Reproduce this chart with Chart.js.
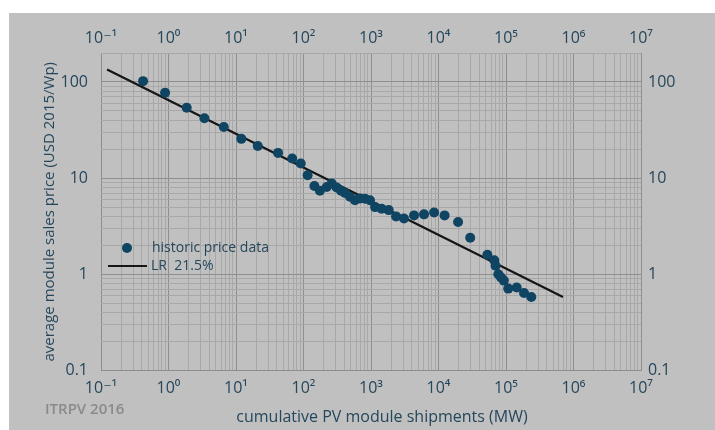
<!DOCTYPE html>
<html>
<head>
<meta charset="utf-8">
<script src="https://cdn.jsdelivr.net/npm/chart.js@4.4.1/dist/chart.umd.min.js"></script>
<style>
    html, body { margin: 0; padding: 0; background: #fff; }
    #wrap { position: relative; width: 715px; height: 430px; }
    #bg { position: absolute; left: 9px; top: 13px; right: 0; bottom: 0; background: #c0c0c0; }
    #pvChart { position: absolute; left: 0; top: 0; }
</style>
</head>
<body>
<div id="wrap">
    <div id="bg"></div>
    <canvas id="pvChart" width="715" height="430"></canvas>
</div>
<script>
// cumulative shipments (MW) and price (USD 2015/Wp)
var shipmentsMW = [0.42, 0.89, 1.86, 3.4, 6.6, 12, 21, 42, 68, 91, 115, 145, 175, 221, 262, 310, 360, 412, 489, 579,
    687, 815, 966, 1150, 1440, 1830, 2350, 3080, 4340, 6100, 8600, 12300, 19500, 29500, 53000, 67000, 70000, 77000,
    84000, 93000, 108000, 144000, 185000, 237000]
var priceUSD = [102, 77, 54, 42, 34, 25.6, 21.6, 18.3, 16, 14.2, 10.7, 8.3, 7.4, 8.1, 8.8, 8.0, 7.4, 7.0, 6.4, 5.9,
    6.15, 6.1, 5.9, 5.0, 4.8, 4.65, 4.0, 3.8, 4.1, 4.2, 4.4, 4.1, 3.5, 2.4, 1.6, 1.4, 1.23, 1.0,
    0.93, 0.86, 0.71, 0.73, 0.64, 0.58]
// learning rate line, end points
var lrShipments = [0.123, 698000]
var lrPrice = [135, 0.58]
var seriesLabels = ['historic price data', 'LR  21.5%']
var xTickLabels = ['10\u207B\u00B9', '10\u2070', '10\u00B9', '10\u00B2', '10\u00B3', '10\u2074', '10\u2075', '10\u2076', '10\u2077']
var yTickLabels = ['0.1', '1', '10', '100']
var xRange = [0.1, 1e7]
var yRange = [0.1, 200]
var yTitle = 'average module sales price (USD 2015/Wp)'
var xTitle = 'cumulative PV module shipments (MW)'
var sourceNote = 'ITRPV 2016'

var textColor = '#25475b'
var fontFamily = '"Open Sans", "DejaVu Sans", sans-serif'

var pvPage = {
    chart: null,
    init: function () {
        pvPage.chart = pvPage.funcs.createChart()
    },
    funcs: {
        toPoints: function (xs, ys) {
            var pts = []
            xs.forEach(function (x, i) {
                pts.push({x: x, y: ys[i]})
            })
            return pts
        },
        /** 1..9 x 10^n grid ticks */
        logTicks: function (scale) {
            var ticks = []
            var lo = Math.round(Math.log10(scale.min))
            var hi = Math.ceil(Math.log10(scale.max))
            for (var e = lo; e <= hi; e++) {
                for (var s = 1; s <= 9; s++) {
                    var v = parseFloat((s * Math.pow(10, e)).toPrecision(6))
                    if (v >= scale.min - 1e-9 && v <= scale.max + 1e-9) ticks.push({value: v, major: s === 1})
                }
            }
            scale.ticks = ticks
        },
        expOf: function (value) {
            var e = Math.round(Math.log10(value))
            if (Math.abs(value - Math.pow(10, e)) > value * 1e-6) return null
            return e
        },
        // '' keeps the grid line, null would hide it
        xLabel: function (value) {
            var e = pvPage.funcs.expOf(value)
            if (e === null) return ''
            return xTickLabels[e + 1]
        },
        yLabel: function (value) {
            var e = pvPage.funcs.expOf(value)
            if (e === null) return ''
            return yTickLabels[e + 1]
        },
        gridColor: function (ctx) {
            return ctx.tick && ctx.tick.major ? '#8e8e8e' : '#a8a8a8'
        },
        xScale: function (position, size, pad) {
            return {
                type: 'logarithmic',
                position: position,
                min: xRange[0],
                max: xRange[1],
                afterBuildTicks: pvPage.funcs.logTicks,
                afterFit: function (scale) { scale.height = size },
                grid: {display: position === 'bottom', drawTicks: false, color: pvPage.funcs.gridColor, lineWidth: 1},
                border: {display: false},
                ticks: {
                    autoSkip: false, maxRotation: 0, padding: pad, color: textColor,
                    font: {family: fontFamily, size: 16},
                    callback: pvPage.funcs.xLabel
                }
            }
        },
        yScale: function (position, size, pad) {
            return {
                type: 'logarithmic',
                position: position,
                min: yRange[0],
                max: yRange[1],
                afterBuildTicks: pvPage.funcs.logTicks,
                afterFit: function (scale) { scale.width = size },
                grid: {display: position === 'left', drawTicks: false, color: pvPage.funcs.gridColor, lineWidth: 1},
                border: {display: false},
                title: {
                    display: position === 'left',
                    text: yTitle,
                    color: textColor,
                    font: {family: fontFamily, size: 15},
                    padding: {top: 41, bottom: 0}
                },
                ticks: {
                    autoSkip: false, padding: pad, color: textColor,
                    font: {family: fontFamily, size: 16},
                    callback: pvPage.funcs.yLabel
                }
            }
        },
        /** legend, x title and source note */
        extrasPlugin: {
            id: 'extras',
            afterDraw: function (chart) {
                var ctx = chart.ctx
                var ds = chart.data.datasets
                ctx.save()
                ctx.fillStyle = ds[0].backgroundColor
                ctx.beginPath()
                ctx.arc(127, 248, ds[0].pointRadius, 0, Math.PI * 2)
                ctx.fill()
                ctx.strokeStyle = ds[1].borderColor
                ctx.lineWidth = ds[1].borderWidth
                ctx.beginPath()
                ctx.moveTo(108, 266)
                ctx.lineTo(147, 266)
                ctx.stroke()
                ctx.fillStyle = textColor
                ctx.font = '14px ' + fontFamily
                ctx.textBaseline = 'middle'
                ctx.textAlign = 'left'
                ctx.fillText(ds[0].label, 152, 248)
                ctx.fillText(ds[1].label, 151, 266)
                ctx.font = '16px ' + fontFamily
                ctx.textAlign = 'center'
                ctx.fillText(xTitle, 382, 417)
                ctx.fillStyle = '#8a8a8a'
                ctx.font = '600 15px ' + fontFamily
                ctx.textAlign = 'left'
                ctx.fillText(sourceNote, 45, 410)
                ctx.restore()
            }
        },
        createChart: function () {
            var ctx = document.getElementById('pvChart').getContext('2d')
            return new Chart(ctx, {
                type: 'scatter',
                data: {
                    datasets: [
                        {
                            label: seriesLabels[0],
                            data: pvPage.funcs.toPoints(shipmentsMW, priceUSD),
                            backgroundColor: '#0f4463',
                            borderWidth: 0,
                            pointRadius: 5
                        },
                        {
                            label: seriesLabels[1],
                            data: pvPage.funcs.toPoints(lrShipments, lrPrice),
                            showLine: true,
                            borderColor: '#151515',
                            borderWidth: 2.2,
                            pointRadius: 0
                        }
                    ]
                },
                options: {
                    responsive: false,
                    animation: false,
                    layout: {padding: 0},
                    plugins: {legend: {display: false}, tooltip: {enabled: false}},
                    scales: {
                        x: pvPage.funcs.xScale('bottom', 59.5, 8),
                        x2: pvPage.funcs.xScale('top', 53, 5),
                        y: pvPage.funcs.yScale('left', 101, 13),
                        y2: pvPage.funcs.yScale('right', 74, 7)
                    }
                },
                plugins: [pvPage.funcs.extrasPlugin]
            })
        }
    }
}
pvPage.init()
</script>
</body>
</html>
